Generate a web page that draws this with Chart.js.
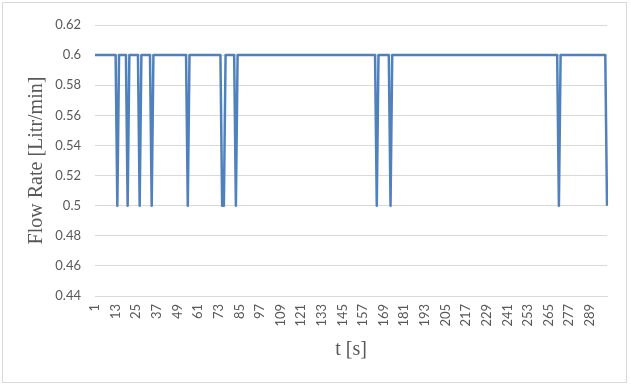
<!DOCTYPE html>
<html>
<head>
<meta charset="utf-8">
<script src="https://cdn.jsdelivr.net/npm/chart.js@4"></script>
<style>
  html, body { margin: 0; padding: 0; background: #fff; }
  canvas { display: block; }
</style>
</head>
<body>
<canvas id="flow" width="631" height="386"></canvas>
<script>
// flow rate samples, one per second (t = 1..299)
let flowRate = [
  0.6, 0.6, 0.6, 0.6, 0.6, 0.6, 0.6, 0.6, 0.6, 0.6,
  0.6, 0.6, 0.6, 0.5, 0.6, 0.6, 0.6, 0.6, 0.6, 0.5,
  0.6, 0.6, 0.6, 0.6, 0.6, 0.6, 0.5, 0.6, 0.6, 0.6,
  0.6, 0.6, 0.6, 0.5, 0.6, 0.6, 0.6, 0.6, 0.6, 0.6,
  0.6, 0.6, 0.6, 0.6, 0.6, 0.6, 0.6, 0.6, 0.6, 0.6,
  0.6, 0.6, 0.6, 0.6, 0.5, 0.6, 0.6, 0.6, 0.6, 0.6,
  0.6, 0.6, 0.6, 0.6, 0.6, 0.6, 0.6, 0.6, 0.6, 0.6,
  0.6, 0.6, 0.6, 0.6, 0.5, 0.5, 0.6, 0.6, 0.6, 0.6,
  0.6, 0.6, 0.5, 0.6, 0.6, 0.6, 0.6, 0.6, 0.6, 0.6,
  0.6, 0.6, 0.6, 0.6, 0.6, 0.6, 0.6, 0.6, 0.6, 0.6,
  0.6, 0.6, 0.6, 0.6, 0.6, 0.6, 0.6, 0.6, 0.6, 0.6,
  0.6, 0.6, 0.6, 0.6, 0.6, 0.6, 0.6, 0.6, 0.6, 0.6,
  0.6, 0.6, 0.6, 0.6, 0.6, 0.6, 0.6, 0.6, 0.6, 0.6,
  0.6, 0.6, 0.6, 0.6, 0.6, 0.6, 0.6, 0.6, 0.6, 0.6,
  0.6, 0.6, 0.6, 0.6, 0.6, 0.6, 0.6, 0.6, 0.6, 0.6,
  0.6, 0.6, 0.6, 0.6, 0.6, 0.6, 0.6, 0.6, 0.6, 0.6,
  0.6, 0.6, 0.6, 0.6, 0.5, 0.6, 0.6, 0.6, 0.6, 0.6,
  0.6, 0.6, 0.5, 0.6, 0.6, 0.6, 0.6, 0.6, 0.6, 0.6,
  0.6, 0.6, 0.6, 0.6, 0.6, 0.6, 0.6, 0.6, 0.6, 0.6,
  0.6, 0.6, 0.6, 0.6, 0.6, 0.6, 0.6, 0.6, 0.6, 0.6,
  0.6, 0.6, 0.6, 0.6, 0.6, 0.6, 0.6, 0.6, 0.6, 0.6,
  0.6, 0.6, 0.6, 0.6, 0.6, 0.6, 0.6, 0.6, 0.6, 0.6,
  0.6, 0.6, 0.6, 0.6, 0.6, 0.6, 0.6, 0.6, 0.6, 0.6,
  0.6, 0.6, 0.6, 0.6, 0.6, 0.6, 0.6, 0.6, 0.6, 0.6,
  0.6, 0.6, 0.6, 0.6, 0.6, 0.6, 0.6, 0.6, 0.6, 0.6,
  0.6, 0.6, 0.6, 0.6, 0.6, 0.6, 0.6, 0.6, 0.6, 0.6,
  0.6, 0.6, 0.6, 0.6, 0.6, 0.6, 0.6, 0.6, 0.6, 0.6,
  0.5, 0.6, 0.6, 0.6, 0.6, 0.6, 0.6, 0.6, 0.6, 0.6,
  0.6, 0.6, 0.6, 0.6, 0.6, 0.6, 0.6, 0.6, 0.6, 0.6,
  0.6, 0.6, 0.6, 0.6, 0.6, 0.6, 0.6, 0.6, 0.5
];
// t [s] categories
let seconds = flowRate.map((v, i) => String(i + 1));
let labelEvery = 12;
let yTicks = [0.44, 0.46, 0.48, 0.5, 0.52, 0.54, 0.56, 0.58, 0.6, 0.62];

let tickFont = { family: 'Lato', size: 13 };
let titleFont = { family: "'Liberation Serif'", size: 20 };
let grey = '#595959';

// light frame around the whole chart
let frame = {
    id: 'frame',
    beforeDraw(chart) {
        let c = chart.ctx;
        c.save();
        c.fillStyle = '#fff';
        c.fillRect(0, 0, chart.width, chart.height);
        c.strokeStyle = '#d9d9d9';
        c.lineWidth = 1;
        c.strokeRect(2.5, 2.5, 624, 380);
        c.restore();
    }
};

let flowChart = new Chart(document.getElementById('flow').getContext('2d'), {
    type: 'line',
    data: {
        labels: seconds,
        datasets: [{
            label: 'Flow Rate',
            data: flowRate,
            borderColor: '#4f81bd',
            borderWidth: 2.5,
            borderJoinStyle: 'round',
            pointRadius: 0,
            tension: 0,
            fill: false
        }]
    },
    options: {
        responsive: false,
        animation: false,
        layout: { padding: { left: 0, right: 24, top: 25, bottom: 0 } },
        plugins: {
            legend: { display: false },
            tooltip: { enabled: false }
        },
        scales: {
            x: {
                offset: false,
                grid: { display: false, drawTicks: false },
                border: { display: true, color: '#d9d9d9' },
                ticks: {
                    autoSkip: false,
                    minRotation: 90,
                    maxRotation: 90,
                    padding: 8,
                    color: grey,
                    font: tickFont,
                    callback: (v, i) => i % labelEvery === 0 ? seconds[i] : ''
                },
                title: {
                    display: true,
                    text: 't [s]',
                    color: grey,
                    font: titleFont,
                    padding: { top: 0, bottom: 24 }
                },
                afterFit: s => { s.height = 90; }
            },
            y: {
                min: 0.44,
                max: 0.62,
                afterBuildTicks: s => { s.ticks = yTicks.map(v => ({ value: v })); },
                grid: { color: '#d9d9d9', drawTicks: false },
                border: { display: false },
                ticks: {
                    padding: 14,
                    color: grey,
                    font: tickFont,
                    callback: v => String(parseFloat(v.toFixed(2)))
                },
                title: {
                    display: true,
                    text: 'Flow Rate [Litr/min]',
                    color: grey,
                    font: titleFont,
                    padding: { top: 25, bottom: 0 }
                },
                afterFit: s => { s.width = 95; }
            }
        }
    },
    plugins: [frame]
});
</script>
</body>
</html>
